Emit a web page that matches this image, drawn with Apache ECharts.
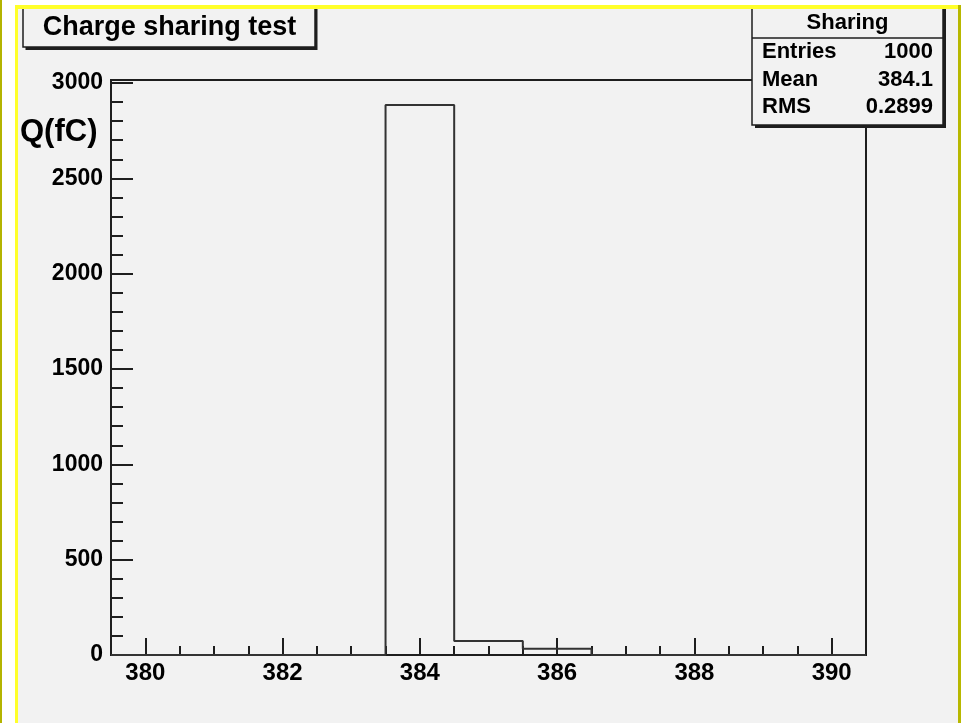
<!DOCTYPE html>
<html>
<head>
<meta charset="utf-8">
<script src="https://cdn.jsdelivr.net/npm/echarts@6/dist/echarts.min.js"></script>
<style>
  html, body { margin: 0; padding: 0; background: #ffffff; }
  #chart { width: 963px; height: 723px; }
</style>
</head>
<body>
<div id="chart"></div>
<script>
// Histogram "Sharing": bin centres (width 1) and their contents
const binCenters  = [380, 381, 382, 383, 384, 385, 386, 387, 388, 389, 390];
const binContents = [0, 0, 0, 0, 2885, 74, 33, 0, 0, 0, 0];

// Axis ticks and labels
const xLabelValues = [380, 382, 384, 386, 388, 390];
const xMinorTicks  = [380, 380.5, 381, 381.5, 382, 382.5, 383, 383.5, 384, 384.5, 385,
                      385.5, 386, 386.5, 387, 387.5, 388, 388.5, 389, 389.5, 390];
const yLabelValues = [0, 500, 1000, 1500, 2000, 2500, 3000];
const yMinorTicks  = [0, 100, 200, 300, 400, 500, 600, 700, 800, 900, 1000, 1100, 1200,
                      1300, 1400, 1500, 1600, 1700, 1800, 1900, 2000, 2100, 2200, 2300,
                      2400, 2500, 2600, 2700, 2800, 2900, 3000];

// Statistics box
const statsTitle = 'Sharing';
const statsNames  = ['Entries', 'Mean', 'RMS'];
const statsValues = ['1000', '384.1', '0.2899'];

const histTitle = 'Charge sharing test';
const yTitle = 'Q(fC)';

const X_MIN = 379.5, X_MAX = 390.5, Y_MAX = 3016;
const FONT = '"Liberation Sans", Arial, Helvetica, sans-serif';
const INK = '#1e1e1e';

// Outline of the histogram as a step line through the bin low edges
const stepData = binCenters.map((c, i) => [c - 0.5, binContents[i]]);
stepData.push([binCenters[binCenters.length - 1] + 0.5, binContents[binContents.length - 1]]);

const chart = echarts.init(document.getElementById('chart'), null, { renderer: 'canvas' });

function valueAxis(extra) {
  return Object.assign({
    type: 'value',
    splitLine: { show: false },
    axisLine: { show: false },
    axisLabel: { show: false },
    axisTick: { show: false }
  }, extra);
}

const plain = v => String(v);

const statsX0 = 752, statsX1 = 943, statsTop = 4, statsBottom = 125;
const rowY = [52, 80, 107];

const graphics = [
  // title box
  { type: 'rect', z: 100, shape: { x: 25.5, y: 7, width: 292, height: 43 }, style: { fill: INK } },
  { type: 'rect', z: 101, shape: { x: 23, y: 4, width: 292, height: 43 },
    style: { fill: '#f2f2f2', stroke: INK, lineWidth: 1.5 } },
  { type: 'text', z: 102, x: 169.5, y: 28,
    style: { text: histTitle, font: 'bold 27px ' + FONT, fill: '#000', align: 'center', verticalAlign: 'middle' } },
  // statistics box
  { type: 'rect', z: 100, shape: { x: statsX0 + 3, y: statsTop + 3, width: statsX1 - statsX0, height: statsBottom - statsTop },
    style: { fill: INK } },
  { type: 'rect', z: 101, shape: { x: statsX0, y: statsTop, width: statsX1 - statsX0, height: statsBottom - statsTop },
    style: { fill: '#f2f2f2', stroke: INK, lineWidth: 1.5 } },
  { type: 'line', z: 102, shape: { x1: statsX0, y1: 38, x2: statsX1, y2: 38 }, style: { stroke: INK, lineWidth: 1.5 } },
  { type: 'text', z: 102, x: (statsX0 + statsX1) / 2, y: 23,
    style: { text: statsTitle, font: 'bold 22px ' + FONT, fill: '#000', align: 'center', verticalAlign: 'middle' } },
  // y axis title
  { type: 'text', z: 102, x: 20, y: 132,
    style: { text: yTitle, font: 'bold 31px ' + FONT, fill: '#000', align: 'left', verticalAlign: 'middle' } },
  // window edges
  { type: 'rect', z: 200, shape: { x: 0, y: 0, width: 2, height: 723 }, style: { fill: '#b4b400' } },
  { type: 'rect', z: 200, shape: { x: 2, y: 0, width: 13, height: 723 }, style: { fill: '#ffffff' } },
  { type: 'rect', z: 200, shape: { x: 15, y: 0, width: 948, height: 5 }, style: { fill: '#ffffff' } },
  { type: 'rect', z: 201, shape: { x: 15, y: 5, width: 3, height: 718 }, style: { fill: '#ffff2a' } },
  { type: 'rect', z: 201, shape: { x: 15, y: 5, width: 944, height: 4 }, style: { fill: '#ffff2a' } },
  { type: 'rect', z: 201, shape: { x: 958, y: 5, width: 3, height: 718 }, style: { fill: '#b8b800' } },
  { type: 'rect', z: 200, shape: { x: 961, y: 0, width: 2, height: 723 }, style: { fill: '#ffffff' } }
];

statsNames.forEach((name, i) => {
  graphics.push({ type: 'text', z: 102, x: 762, y: rowY[i],
    style: { text: name, font: 'bold 22px ' + FONT, fill: '#000', align: 'left', verticalAlign: 'middle' } });
  graphics.push({ type: 'text', z: 102, x: 933, y: rowY[i],
    style: { text: statsValues[i], font: 'bold 22px ' + FONT, fill: '#000', align: 'right', verticalAlign: 'middle' } });
});

chart.setOption({
  backgroundColor: '#f2f2f2',
  animation: false,
  grid: {
    left: 111, right: 97, top: 80, bottom: 68,
    show: true, borderColor: INK, borderWidth: 2, backgroundColor: 'transparent'
  },
  xAxis: [
    valueAxis({
      min: X_MIN, max: X_MAX, position: 'bottom',
      axisLine: { show: true, lineStyle: { color: INK, width: 2 } },
      axisTick: { show: true, inside: true, length: 17, customValues: xLabelValues,
                  lineStyle: { color: INK, width: 2 } },
      axisLabel: { show: true, customValues: xLabelValues, margin: 6, formatter: plain,
                   fontSize: 24, fontWeight: 'bold', fontFamily: FONT, color: '#000' }
    }),
    valueAxis({
      min: X_MIN, max: X_MAX, position: 'bottom',
      axisTick: { show: true, inside: true, length: 9, customValues: xMinorTicks,
                  lineStyle: { color: INK, width: 2 } }
    })
  ],
  yAxis: [
    valueAxis({
      min: 0, max: Y_MAX, position: 'left',
      axisLine: { show: true, lineStyle: { color: INK, width: 2 } },
      axisTick: { show: true, inside: true, length: 22, customValues: yLabelValues,
                  lineStyle: { color: INK, width: 2 } },
      axisLabel: { show: true, customValues: yLabelValues, margin: 8, formatter: plain,
                   fontSize: 23, fontWeight: 'bold', fontFamily: FONT, color: '#000' }
    }),
    valueAxis({
      min: 0, max: Y_MAX, position: 'left',
      axisTick: { show: true, inside: true, length: 12, customValues: yMinorTicks,
                  lineStyle: { color: INK, width: 2 } }
    })
  ],
  series: [{
    type: 'line',
    xAxisIndex: 0, yAxisIndex: 0,
    step: 'end',
    data: stepData,
    symbol: 'none',
    lineStyle: { color: '#333333', width: 2 },
    z: 5
  }],
  graphic: graphics
});
</script>
</body>
</html>
